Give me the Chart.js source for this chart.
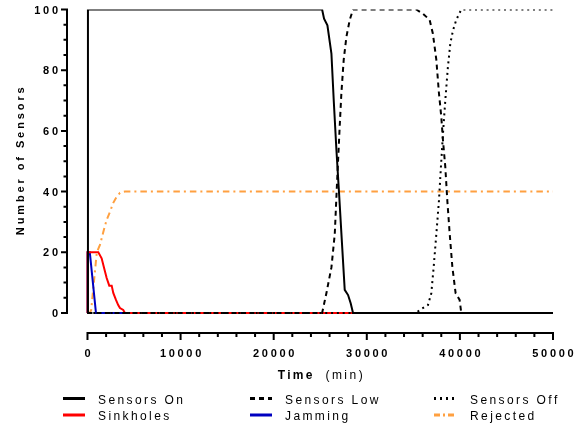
<!DOCTYPE html>
<html>
<head>
<meta charset="utf-8">
<script src="https://cdn.jsdelivr.net/npm/chart.js@4.4.1/dist/chart.umd.min.js"></script>
<style>
  html, body { margin: 0; padding: 0; background: #fff; }
</style>
</head>
<body>
<canvas id="chart" width="579" height="426"></canvas>
<script>
// values (time in min, number of sensors)
const onTime    = [0, 50, 25200, 25410, 25770, 26200, 26450, 26740, 27020, 27270, 27630, 27990, 28270, 28520, 50000];
const onValues  = [0, 100, 100, 97, 94.8, 85.5, 70, 53.6, 39.5, 26.3, 7.6, 5.9, 3.2, 0, 0];

const lowTime   = [0, 25200, 25660, 26200, 26560, 26800, 27090, 27270, 27520, 27810, 28170, 28520,
                   35320, 36030, 36750, 37100, 37470, 37750, 38000, 38180, 38430, 38650, 38900, 39190, 39540, 39970, 40150, 50000];
const lowValues = [0, 0, 6.5, 15, 26, 42.6, 61.5, 72.4, 83.4, 91, 96.6, 100,
                   100, 98.6, 96.6, 92, 83.4, 72.4, 64.7, 57, 48.2, 37, 26.3, 15.2, 6.5, 4.3, 0, 0];

const offTime   = [0, 35320, 35680, 36570, 36930, 37180, 37470, 37750, 37960, 38180, 38430, 38710, 38970, 39250, 39610, 40150, 50000];
const offValues = [0, 0, 1, 2.6, 6.5, 15, 26, 37, 48, 59, 70, 81, 88.8, 93, 96.6, 100, 100];

const sinkTime   = [0, 10, 1160, 1520, 1770, 2060, 2340, 2600, 2770, 3060, 3300, 3490, 3840, 4020, 50000];
const sinkValues = [0, 20, 20, 18, 15, 11.5, 9, 9, 6.6, 4.3, 2.6, 1.6, 1, 0, 0];

const jamTime   = [0, 10, 250, 910, 50000];
const jamValues = [0, 20, 20, 0, 0];

const rejTime   = [0, 250, 400, 1000, 1340, 1700, 2060, 2410, 2770, 3130, 3490, 4020, 50000];
const rejValues = [0, 0, 1, 20, 22.4, 26.7, 30.7, 33.3, 36.3, 38.3, 39.6, 40, 40];

const xTicks = [0, 10000, 20000, 30000, 40000, 50000];
const yTicks = [0, 20, 40, 60, 80, 100];

const pts = (t, v) => t.map((x, i) => ({ x: x, y: v[i] }));

const FAM = '"Liberation Sans", Arial, sans-serif';
Chart.defaults.font.family = FAM;
Chart.defaults.color = '#000';

// draws text with wide letter spacing, char by char
function spaced(ctx, text, x, y, align, sp) {
  const chars = [...text];
  const w = chars.map(ch => ctx.measureText(ch).width);
  const total = w.reduce((a, b) => a + b, 0) + sp * (chars.length - 1);
  let cx = align === 'right' ? x - total : align === 'center' ? x - total / 2 : x;
  ctx.textAlign = 'left';
  chars.forEach((ch, i) => { ctx.fillText(ch, cx, y); cx += w[i] + sp; });
  return total;
}

// Prism-style detached axes, tick labels, titles and a 3-column legend
const prismPlugin = {
  id: 'prism',
  afterDraw(chart) {
    const { ctx, chartArea } = chart;
    const x = chart.scales.x, y = chart.scales.y;
    ctx.save();
    ctx.strokeStyle = '#000';
    ctx.fillStyle = '#000';
    ctx.lineWidth = 2;
    ctx.setLineDash([]);

    // y axis
    const ax = chartArea.left;
    ctx.beginPath();
    ctx.moveTo(ax, y.getPixelForValue(100) - 1);
    ctx.lineTo(ax, y.getPixelForValue(0) + 1);
    for (let v = 0; v <= 100; v += 5) {
      const py = y.getPixelForValue(v);
      ctx.moveTo(ax, py);
      ctx.lineTo(ax - (v % 20 === 0 ? 6 : 3.5), py);
    }
    ctx.stroke();

    // x axis
    const ay = chartArea.bottom;
    ctx.beginPath();
    ctx.moveTo(x.getPixelForValue(0) - 1, ay);
    ctx.lineTo(x.getPixelForValue(50000) + 1, ay);
    for (let v = 0; v <= 50000; v += 2000) {
      const px = x.getPixelForValue(v);
      ctx.moveTo(px, ay);
      ctx.lineTo(px, ay + (v % 10000 === 0 ? 7 : 4));
    }
    ctx.stroke();

    // tick labels
    ctx.font = 'bold 11px ' + FAM;
    ctx.textBaseline = 'alphabetic';
    yTicks.forEach(v => spaced(ctx, String(v), ax - 9, y.getPixelForValue(v) + 4, 'right', 2.7));
    xTicks.forEach(v => spaced(ctx, String(v), x.getPixelForValue(v), ay + 24, 'center', 2.7));

    // axis titles
    const cx = (x.getPixelForValue(0) + x.getPixelForValue(50000)) / 2;
    ctx.font = 'bold 12px ' + FAM;
    const w1 = spaced(ctx, 'Time', -1000, -1000, 'left', 2.2);
    ctx.font = '12px ' + FAM;
    const w2 = spaced(ctx, '(min)', -1000, -1000, 'left', 2.5);
    const gap = 13;
    const tx = cx - (w1 + gap + w2) / 2;
    ctx.font = 'bold 12px ' + FAM;
    spaced(ctx, 'Time', tx, 379, 'left', 2.2);
    ctx.font = '12px ' + FAM;
    spaced(ctx, '(min)', tx + w1 + gap, 379, 'left', 2.5);

    ctx.save();
    ctx.translate(24, (y.getPixelForValue(0) + y.getPixelForValue(100)) / 2);
    ctx.rotate(-Math.PI / 2);
    ctx.font = 'bold 11px ' + FAM;
    spaced(ctx, 'Number of Sensors', 0, 0, 'center', 2.9);
    ctx.restore();

    // legend
    const colLine = [63, 250, 434];
    const colText = [98, 285, 470];
    const rowLine = [398.5, 415];
    const rowText = [403.5, 420];
    ctx.font = '12px ' + FAM;
    chart.data.datasets.forEach((ds, i) => {
      const c = i % 3, r = Math.floor(i / 3);
      ctx.beginPath();
      ctx.strokeStyle = ds.borderColor;
      ctx.lineWidth = 3;
      ctx.setLineDash(ds.legendDash || []);
      ctx.moveTo(colLine[c], rowLine[r]);
      ctx.lineTo(colLine[c] + 22, rowLine[r]);
      ctx.stroke();
      ctx.fillStyle = '#000';
      spaced(ctx, ds.label, colText[c], rowText[r], 'left', 2.4);
    });
    ctx.restore();
  }
};

new Chart(document.getElementById('chart'), {
  type: 'line',
  data: {
    datasets: [
      { label: 'Sensors On', data: pts(onTime, onValues), borderColor: '#000000', borderWidth: 2 },
      { label: 'Sensors Low', data: pts(lowTime, lowValues), borderColor: '#000000', borderWidth: 2,
        borderDash: [5, 4], legendDash: [5, 4] },
      { label: 'Sensors Off', data: pts(offTime, offValues), borderColor: '#000000', borderWidth: 2,
        borderDash: [2, 3.8], legendDash: [2, 4] },
      { label: 'Sinkholes', data: pts(sinkTime, sinkValues), borderColor: '#ff0000', borderWidth: 2 },
      { label: 'Jamming', data: pts(jamTime, jamValues), borderColor: '#0000c0', borderWidth: 2 },
      { label: 'Rejected', data: pts(rejTime, rejValues), borderColor: '#ffa040', borderWidth: 2,
        borderDash: [6.5, 4, 2, 4], legendDash: [6, 3, 2, 3] }
    ]
  },
  options: {
    responsive: false,
    animation: false,
    layout: { padding: { left: 0, right: 26, top: 9.5, bottom: 0 } },
    elements: { point: { radius: 0 }, line: { tension: 0 } },
    plugins: { legend: { display: false }, tooltip: { enabled: false } },
    scales: {
      x: {
        type: 'linear', min: -2200, max: 50000,
        grid: { display: false }, border: { display: false },
        afterBuildTicks: s => { s.ticks = xTicks.map(v => ({ value: v })); },
        afterFit: s => { s.height = 93; },
        ticks: { display: false }
      },
      y: {
        min: -6.6, max: 100,
        grid: { display: false }, border: { display: false },
        afterBuildTicks: s => { s.ticks = yTicks.map(v => ({ value: v })); },
        afterFit: s => { s.width = 67; },
        ticks: { display: false }
      }
    }
  },
  plugins: [prismPlugin]
});
</script>
</body>
</html>
